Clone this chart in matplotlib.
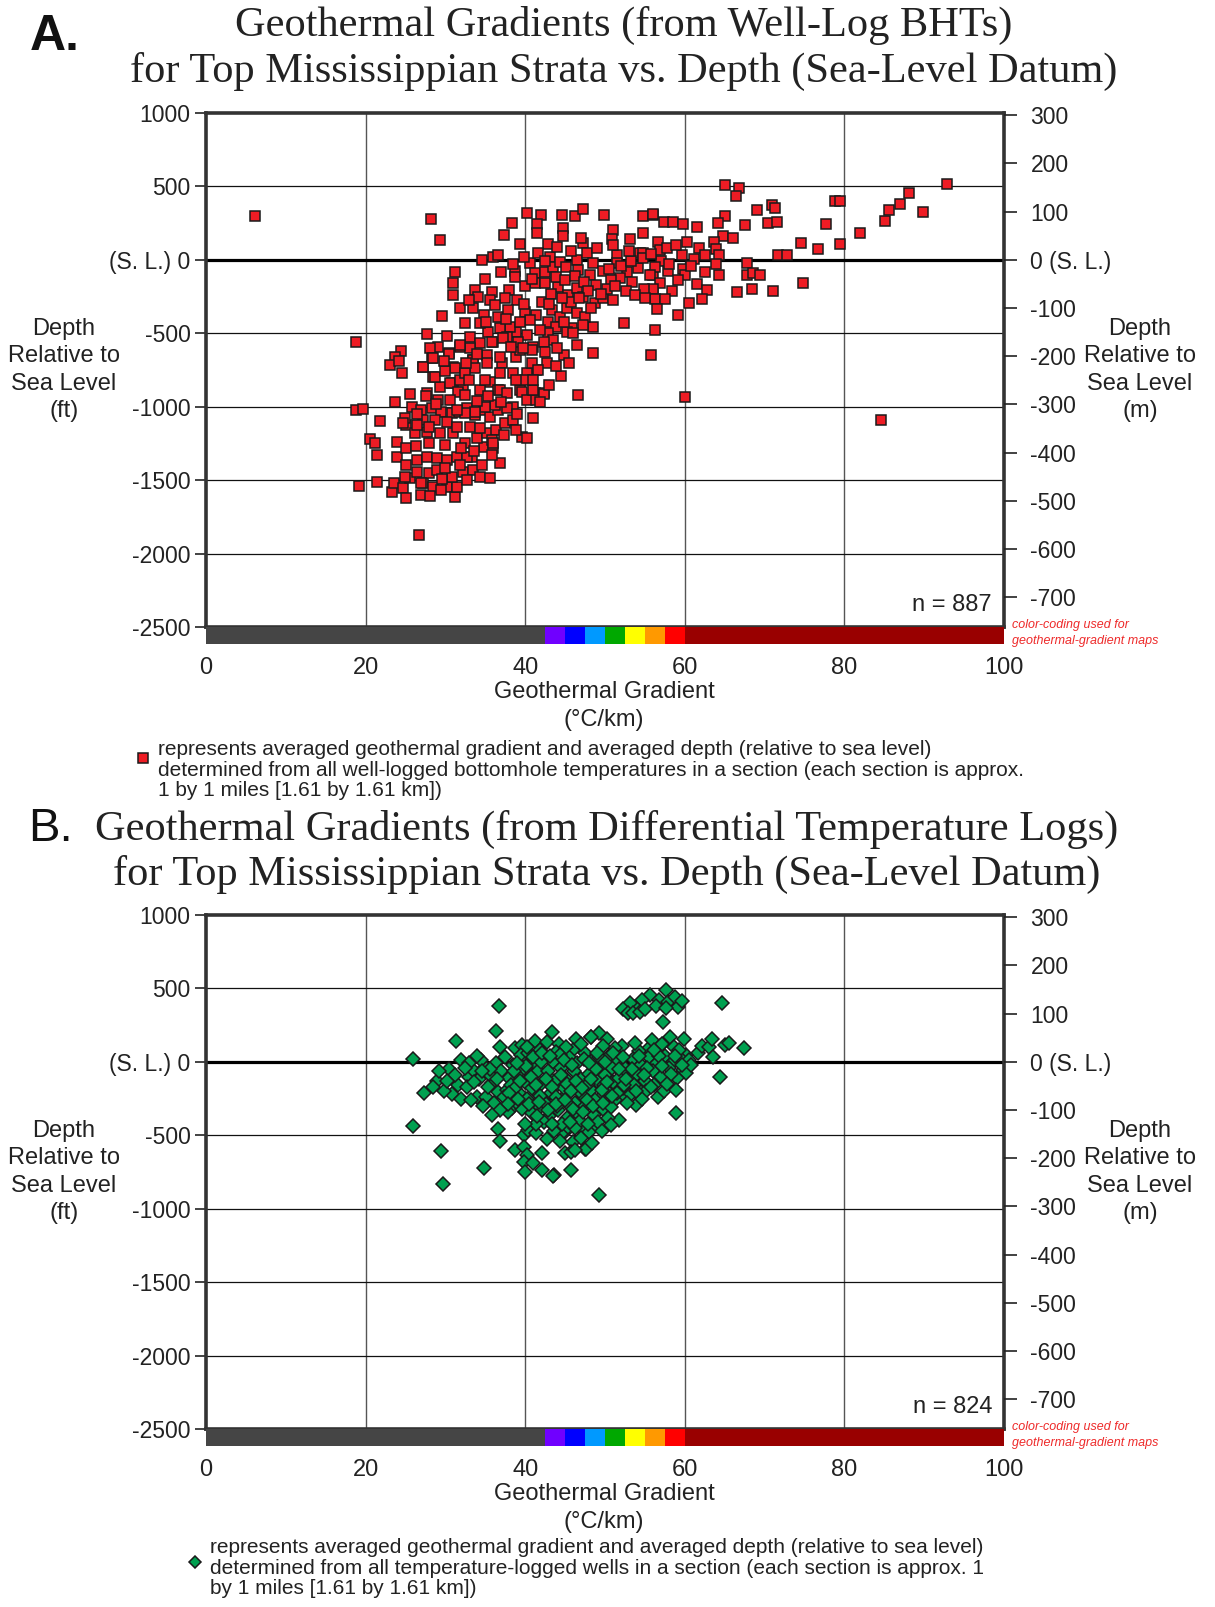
import matplotlib
matplotlib.use("Agg")
import matplotlib.pyplot as plt

plt.rcParams['font.family'] = ['Liberation Sans', 'DejaVu Sans']

# ---- data: (geothermal gradient degC/km, depth rel. to sea level ft) ----
bht_points = [
    (6.2, 296), (18.8, -557), (18.8, -1022), (19.7, -1017), (19.2, -1540), (20.6, -1220), (21.2, -1249),
    (21.4, -1329), (21.4, -1510), (21.8, -1095), (26.7, -1873), (28.2, 278), (29.3, 135), (31.2, -83),
    (27.7, -505), (60.0, -931), (84.6, -1092), (92.9, 517),
    (38.3, 251), (37.3, 169), (39.3, 108), (40.2, 319), (42.0, 306), (41.5, 244), (41.5, 183), (44.6, 306),
    (46.2, 299), (47.2, 346), (44.7, 217), (44.7, 162), (42.9, 108), (49.9, 306), (47.2, 115), (51.0, 203),
    (50.9, 142), (53.1, 142), (54.8, 183), (54.8, 299), (56.0, 306),
    (34.6, -1), (36.0, 20), (36.6, 33), (38.7, -76), (38.5, -28), (40.6, -21), (41.6, 47), (43.1, 20),
    (41.2, -90), (42.5, -83), (43.5, -49), (44.4, -14), (45.1, -49), (46.5, -1), (47.7, 47), (48.5, -21),
    (46.6, -69), (48.1, -103), (49.7, -76), (51.5, 33), (51.5, -21), (52.8, -83), (54.4, 47), (54.1, -55),
    (56.0, -103), (56.0, -205), (53.4, -151), (51.9, -124), (50.8, -137),
    (41.2, -158), (42.5, -158), (44.1, -185), (45.4, -239), (46.5, -192), (47.2, -253), (48.7, -294),
    (49.7, -260), (51.0, -273), (52.4, -430), (48.5, -457), (40.0, -178), (42.1, -287),
    (43.4, -341), (44.4, -389), (45.2, -328), (46.5, -362), (47.5, -389), (45.9, -464), (47.2, -444),
    (48.5, -634), (55.8, -648), (56.3, -478), (44.5, -791), (46.6, -920),
    (30.9, -239), (31.8, -330), (33.7, -205), (34.1, -251), (35.9, -217), (38.0, -205), (39.0, -273),
    (35.6, -273), (33.5, -330), (34.8, -375), (36.6, -387), (37.9, -341), (40.0, -353), (41.4, -375),
    (40.6, -410), (42.9, -421), (43.9, -455), (42.9, -500), (45.2, -489), (46.0, -500), (46.5, -580),
    (44.8, -648), (43.5, -546), (42.3, -557), (41.0, -591), (40.2, -512), (38.9, -489), (38.1, -455),
    (36.8, -466), (35.4, -489), (34.3, -432), (33.1, -523), (31.8, -591), (30.4, -636), (29.1, -591),
    (28.3, -670), (28.1, -602), (27.2, -727), (28.5, -796), (31.0, -727), (33.5, -682), (35.2, -648),
    (37.1, -704), (38.9, -659), (40.8, -614), (42.5, -625), (42.7, -704), (41.4, -750), (40.2, -772),
    (38.5, -772), (36.8, -772), (35.6, -830), (36.6, -886), (34.3, -886), (32.2, -864), (30.8, -841),
    (29.3, -864), (27.7, -909), (39.3, -886), (41.2, -909), (42.3, -909),
    (24.4, -618), (23.7, -659), (23.1, -716), (24.2, -686), (24.6, -768), (27.2, -732), (28.5, -671),
    (30.4, -641), (31.2, -739), (28.7, -796), (30.6, -837), (31.8, -818), (31.6, -898), (30.6, -954),
    (29.1, -954), (27.6, -927), (25.6, -913), (23.7, -966), (25.8, -1000), (27.0, -1022), (28.3, -1011),
    (29.5, -1034), (30.8, -1045), (31.7, -1034), (32.7, -1011), (33.7, -1056), (34.8, -1022), (35.6, -1068),
    (36.6, -1022), (36.8, -886), (37.7, -909), (38.5, -1004), (39.6, -898), (40.2, -954), (41.4, -954),
    (42.3, -913), (41.0, -886), (40.0, -818), (40.8, -704), (41.6, -750), (39.3, -614), (36.8, -659),
    (35.2, -704), (33.5, -682), (33.7, -739), (32.5, -772), (34.3, -568), (33.1, -602), (31.8, -580),
    (36.0, -557), (37.7, -523), (39.1, -557),
    (23.3, -1579), (23.5, -1521), (24.7, -1556), (25.1, -1624), (27.0, -1601), (27.2, -1521), (25.6, -1488),
    (24.9, -1476), (26.4, -1442), (27.9, -1454), (28.9, -1431), (28.5, -1544), (30.2, -1544), (31.2, -1612),
    (31.4, -1544), (30.8, -1476), (32.2, -1442), (33.5, -1431), (34.3, -1476), (35.6, -1488), (33.3, -1340),
    (34.8, -1272), (36.0, -1283), (36.8, -1385), (35.8, -1329), (23.9, -1340), (23.9, -1238), (25.1, -1283),
    (26.4, -1363), (27.7, -1340), (28.9, -1351), (30.2, -1363), (31.4, -1340), (32.7, -1340), (25.1, -1124),
    (26.2, -1181), (27.7, -1170), (29.3, -1181), (31.0, -1181), (32.5, -1249), (33.9, -1215), (35.2, -1181),
    (36.4, -1158), (37.5, -1113), (38.5, -1090), (39.6, -1204), (40.2, -1215), (41.0, -1079), (37.7, -1011),
    (36.2, -988), (35.0, -1000), (33.7, -1034), (32.5, -1045), (31.4, -1022), (30.2, -1102), (28.7, -1090),
    (27.2, -1090), (24.9, -1079), (24.7, -1113), (26.4, -1124), (27.9, -1136), (31.4, -1136), (33.1, -1136),
    (34.3, -1147), (35.8, -1227), (36.0, -1249),
    (65.0, 510), (66.8, 487), (66.4, 435), (69.0, 340), (70.9, 373), (71.3, 353), (65.0, 299), (64.2, 251),
    (67.5, 237), (70.4, 251), (71.5, 258), (64.8, 163), (66.0, 149), (63.7, 122), (63.9, 74), (64.3, 33),
    (63.9, -28), (67.8, -21), (64.3, -103), (67.8, -103), (68.5, -90), (69.4, -103), (62.5, -83),
    (61.5, -164), (62.8, -205), (62.2, -267), (60.5, -294), (59.1, -375), (66.5, -219), (68.4, -198),
    (71.1, -212), (74.8, -158), (71.7, 33), (72.8, 33), (74.6, 115), (76.7, 74), (77.7, 244), (79.4, 108),
    (78.8, 401), (79.4, 401), (82.0, 183), (85.1, 265), (85.6, 340), (87.0, 381), (88.1, 455), (89.8, 326),
    (56.0, 312), (57.4, 258), (58.5, 258), (59.8, 244), (61.5, 224), (56.6, 122), (56.9, 67), (54.8, 47),
    (59.6, 33), (61.2, 6), (57.0, -8), (56.3, -49), (57.9, -76), (59.8, -62), (60.0, -103), (55.6, -103),
    (56.9, -158), (56.0, -198), (58.4, -212), (54.9, -198), (56.3, -267), (57.5, -267), (56.5, -335),
    (43.8, -120), (45.0, -140), (46.2, -110), (47.4, -150), (48.9, -170), (50.2, -200), (51.3, -180),
    (52.6, -210), (53.8, -240), (55.0, -260), (49.5, -230), (47.9, -210), (45.8, -290), (44.6, -260),
    (43.2, -230), (50.5, -60), (52.0, -40), (53.3, -10), (54.7, 10), (55.8, 40), (57.8, 80), (58.9, 100),
    (60.3, 120), (61.8, 80), (62.5, 30), (58.0, -30), (59.2, -140), (60.8, -40), (53.0, 60), (51.0, 100),
    (49.0, 80), (47.0, 150), (45.8, 60), (44.0, 90), (42.5, -10), (39.8, 20), (40.9, -130), (38.7, -120),
    (37.5, -260), (36.2, -310), (39.3, -420), (37.2, -530), (35.8, -560), (34.0, -640), (32.6, -700),
    (30.0, -760), (29.8, -690), (32.4, -920), (33.9, -960), (35.3, -930), (37.0, -970), (38.8, -820),
    (34.9, -820), (33.0, -820), (28.8, -980), (26.5, -1050), (29.9, -1260), (31.9, -1280), (33.6, -1300),
    (28.0, -1250), (26.3, -1270), (25.0, -1400), (26.9, -1520), (29.6, -1490), (32.7, -1500), (28.1, -1610),
    (29.4, -1570), (30.0, -1420), (31.8, -1400), (34.6, -1400), (37.4, -1190), (38.9, -1160), (39.0, -1050),
    (41.9, -970), (43.0, -850), (41.0, -820), (43.9, -720), (45.5, -700), (44.0, -600), (41.9, -480),
    (39.7, -600), (38.2, -590), (37.6, -400), (35.1, -420), (32.5, -430), (30.2, -520), (29.6, -380),
    (32.9, -270), (31.0, -160), (35.0, -130), (37.0, -80), (39.8, -300), (43.0, -300), (44.8, -420),
    (46.8, -260), (48.2, -330),
]

dtl_points = [
    (36.7, 380), (36.3, 212), (31.3, 140), (26.0, 19), (32.0, 13), (27.3, -210), (26.0, -435), (29.5, -607),
    (29.7, -832), (34.8, -725), (38.3, -316), (36.6, -459), (36.8, -536), (39.8, -498), (40.4, -464),
    (41.4, -487), (42.7, -528), (38.7, -600), (39.8, -577), (40.2, -634), (39.8, -679), (41.0, -690),
    (42.1, -618), (42.1, -736), (43.6, -770), (40.0, -747), (43.7, -443), (45.0, -477), (46.0, -545),
    (45.0, -624), (45.8, -613), (45.8, -736), (47.5, -595), (44.6, -487), (45.4, -443), (49.3, -904),
    (51.7, -396), (48.5, -443), (47.1, -464), (47.6, -596), (43.5, -777),
    (32.9, -101), (33.9, -237), (35.1, -237), (35.8, -146), (35.0, -33), (36.6, -203), (37.7, -192),
    (33.5, -55), (31.6, -158), (34.5, 13), (36.4, -10), (32.7, -170),
    (43.3, 205), (41.2, 144), (42.7, 137), (44.2, 122), (46.4, 154), (48.3, 168), (38.7, 92), (36.8, 103),
    (39.6, 113), (46.0, 81),
    (57.7, 489), (55.6, 455), (56.8, 421), (56.4, 380), (57.9, 410), (58.8, 444), (59.2, 376), (59.7, 417),
    (57.7, 365), (54.6, 421), (53.8, 372), (53.1, 403), (52.3, 358), (52.9, 330), (53.5, 330), (54.4, 342),
    (55.0, 358), (64.7, 403), (57.3, 271),
    (58.1, 171), (59.9, 154), (58.6, 103), (56.9, 108), (55.4, 85), (54.2, 74), (52.1, 108), (51.3, 92),
    (50.2, 154), (49.2, 199), (48.3, 171),
    (61.6, 62), (62.1, 108), (63.0, 103), (63.4, 154), (63.5, 31), (65.0, 115), (65.5, 131), (67.4, 92),
    (64.4, -101), (60.2, 49), (59.8, -55), (60.2, -78),
    (57.9, -158), (53.9, -294), (58.9, -350), (56.1, -158), (54.0, -180), (52.1, -237),
    (37.5, 30), (38.5, -20), (39.5, 50), (40.5, 10), (41.5, -30), (42.5, 40), (43.5, 0), (44.5, -40),
    (45.5, 30), (46.5, -10), (47.5, 60), (48.5, 10), (49.5, -30), (50.5, 40), (51.5, 0), (52.5, -40),
    (53.5, 20), (54.5, -20), (55.5, 30), (56.5, -10), (57.5, 40), (58.5, 0), (59.5, 20),
    (37.0, -60), (38.0, -110), (39.0, -80), (40.0, -140), (41.0, -90), (42.0, -150), (43.0, -100),
    (44.0, -160), (45.0, -110), (46.0, -170), (47.0, -120), (48.0, -80), (49.0, -130), (50.0, -90),
    (51.0, -140), (52.0, -70), (53.0, -120), (54.0, -80), (55.0, -130), (56.0, -60), (57.0, -100),
    (58.0, -40), (59.0, -110),
    (38.2, -160), (39.2, -210), (40.2, -250), (41.2, -200), (42.2, -260), (43.2, -210), (44.2, -270),
    (45.2, -220), (46.2, -280), (47.2, -230), (48.2, -190), (49.2, -250), (50.2, -200), (51.2, -260),
    (52.2, -180), (53.2, -220), (55.2, -200), (56.6, -240), (57.4, -200),
    (39.6, -320), (40.8, -350), (41.9, -310), (43.0, -370), (44.1, -330), (45.3, -380), (46.4, -340),
    (47.5, -300), (48.6, -360), (49.7, -320), (50.8, -310), (42.4, -410), (44.6, -420), (46.9, -400),
    (49.1, -410), (50.4, -380),
    (40.3, 60), (41.8, 80), (43.9, 70), (45.1, 100), (47.0, 120), (49.8, 110), (53.8, 130), (55.9, 150),
    (57.2, 120), (59.3, 80), (60.5, 10), (58.3, -80), (56.8, 40), (60.8, -20),
    (34.2, -120), (35.5, -80), (36.1, -280), (37.3, -240), (38.9, -270), (37.9, -340), (35.6, -50),
    (34.0, 40), (33.0, -10), (30.5, -50), (29.0, -130), (28.5, -170), (30.8, -220), (31.9, -250),
    (29.8, -200),
    (40.9, -180), (41.6, -60), (42.9, -60), (43.7, -130), (44.9, -180), (46.1, -60), (46.8, -200),
    (47.9, -150), (48.8, -260), (49.9, -160), (51.5, -210), (52.8, -280), (54.6, -250), (53.6, -160),
    (50.9, -40), (49.3, 30), (44.3, 50), (42.0, 0), (39.8, -40), (38.7, -180),
    (44.0, -300), (45.8, -310), (42.6, -290), (41.3, -420), (43.6, -470), (46.3, -450), (48.0, -480),
    (47.0, -520), (44.3, -540), (46.2, -600), (48.4, -550), (49.6, -470), (50.7, -430),
    # dense core between 38 and 52 degC/km
    (38.6, -60), (39.4, -130), (40.1, -30), (40.7, -100), (41.3, -160), (41.9, -230), (42.6, -120),
    (43.3, -170), (43.9, -240), (44.5, -90), (45.2, -150), (45.8, -200), (46.4, -130), (47.1, -180),
    (47.7, -260), (48.3, -120), (48.9, -50), (49.6, -190), (50.3, -140), (50.9, -230), (51.7, -110),
    (52.4, -160), (39.1, -250), (40.5, -290), (41.7, -270), (42.8, -330), (43.8, -290), (45.0, -260),
    (46.0, -320), (47.3, -340), (48.5, -300), (49.8, -280), (38.0, -210), (39.0, -10), (40.2, 100),
    (41.0, 30), (42.1, 60), (43.1, 40), (44.8, 10), (45.9, -20), (47.4, 20), (48.0, -10), (49.0, 60),
    (50.0, 0), (51.0, 60), (52.3, 30), (53.4, -50), (54.3, 40), (55.3, -40), (56.2, 80), (57.1, -30),
    (58.8, 40), (59.6, -20), (54.9, -90), (53.9, -200), (52.6, -120), (51.8, -50), (36.5, -120),
    (35.3, -170), (34.6, -60), (33.6, -140), (32.4, -40), (31.2, -90), (30.2, -130), (29.2, -60),
    (37.8, -290), (36.9, -330), (35.9, -360), (34.7, -300), (33.2, -260), (57.8, -150), (58.9, -190),
    (55.8, -170), (41.5, -370), (43.4, -420), (45.6, -410), (47.9, -420), (40.0, -420),
]

depth_ticks_ft = [1000, 500, 0, -500, -1000, -1500, -2000, -2500]
depth_labels_ft = ['1000', '500', '(S. L.) 0', '-500', '-1000', '-1500', '-2000', '-2500']
depth_ticks_m = [300, 200, 100, 0, -100, -200, -300, -400, -500, -600, -700]
depth_labels_m = ['300', '200', '100', '0 (S. L.)', '-100', '-200', '-300', '-400', '-500', '-600', '-700']
grad_ticks = [0, 20, 40, 60, 80, 100]
band_edges = [0, 42.5, 45, 47.5, 50, 52.5, 55, 57.5, 60, 100]
band_colors = ['#454545', '#7000ff', '#0000ff', '#0099ff', '#00a800', '#ffff00', '#ff9900', '#ff0000', '#990000']
FT_TO_M = 0.3048

W, H = 1215, 1607
fig = plt.figure(figsize=(W / 100, H / 100), dpi=100)

AX_L = 206 / W
AX_W = (1004 - 206) / W
AX_H = 514 / H
CB_H = 17 / H


def draw_panel(top_px, points, marker, face, ms, n_text):
    bottom = 1 - (top_px + 514) / H
    ax = fig.add_axes([AX_L, bottom, AX_W, AX_H])
    ax.set_xlim(0, 100)
    ax.set_ylim(-2500, 1000)

    for g in [20, 40, 60, 80]:
        ax.axvline(g, color='#555555', lw=1.0, zorder=1)
    for d in [500, -500, -1000, -1500, -2000]:
        ax.axhline(d, color='#111111', lw=0.9, zorder=1)
    ax.axhline(0, color='black', lw=2.3, zorder=2)

    xs = [p[0] for p in points]
    ys = [p[1] for p in points]
    ax.plot(xs, ys, ls='none', marker=marker, ms=ms, mfc=face, mec='#1a1a1a', mew=1.1, zorder=3)

    ax.set_xticks([])
    ax.set_yticks(depth_ticks_ft)
    ax.set_yticklabels(depth_labels_ft)
    ax.tick_params(axis='y', direction='out', length=8, width=1.2, labelsize=16.5, pad=3, colors='#222222')
    for s in ax.spines.values():
        s.set_linewidth(2.6)
        s.set_color('#333333')

    axr = ax.twinx()
    axr.set_ylim(-2500 * FT_TO_M, 1000 * FT_TO_M)
    axr.set_yticks(depth_ticks_m)
    axr.set_yticklabels(depth_labels_m)
    axr.tick_params(axis='y', direction='out', length=9, width=1.2, labelsize=16.5, pad=10, colors='#222222')
    for s in axr.spines.values():
        s.set_visible(False)

    ax.text(0.985, 0.042, n_text, transform=ax.transAxes, ha='right', va='center', fontsize=17, color='#222222')

    # colour-coding strip beneath the plot
    cax = fig.add_axes([AX_L, bottom - CB_H, AX_W, CB_H])
    for lo, hi, c in zip(band_edges[:-1], band_edges[1:], band_colors):
        cax.axvspan(lo, hi, color=c, lw=0)
    cax.set_xlim(0, 100)
    cax.set_ylim(0, 1)
    cax.set_yticks([])
    cax.set_xticks(grad_ticks)
    cax.tick_params(axis='x', length=0, pad=9, labelsize=17, colors='#222222')
    for s in cax.spines.values():
        s.set_visible(False)

    fig.text(1012 / W, 1 - (top_px + 520) / H, 'color-coding used for\ngeothermal-gradient maps',
             fontsize=9, style='italic', color='#ee2a2a', ha='left', va='center', linespacing=1.4)

    mid = 1 - (top_px + 257) / H
    side = 'Depth\nRelative to\nSea Level\n'
    fig.text(64 / W, mid, side + '(ft)', ha='center', va='center', fontsize=17, linespacing=1.3,
             color='#222222')
    fig.text(1140 / W, mid, side + '(m)', ha='center', va='center', fontsize=17, linespacing=1.3,
             color='#222222')
    fig.text(604 / W, 1 - (top_px + 593) / H, 'Geothermal Gradient\n(\u00b0C/km)', ha='center', va='center',
             fontsize=17, linespacing=1.3, color='#222222')
    return ax


draw_panel(113, bht_points, 's', '#ee1c24', 7.2, 'n = 887')
draw_panel(915, dtl_points, 'D', '#00a050', 6.8, 'n = 824')

serif = ['Liberation Serif', 'DejaVu Serif']
fig.text(0.513, 1 - 25 / H, 'Geothermal Gradients (from Well-Log BHTs)', family=serif, fontsize=30.5,
         ha='center', va='center', color='#222222')
fig.text(0.513, 1 - 71 / H, 'for Top Mississippian Strata vs. Depth (Sea-Level Datum)', family=serif,
         fontsize=30.5, ha='center', va='center', color='#222222')
fig.text(0.499, 1 - 829 / H, 'Geothermal Gradients (from Differential Temperature Logs)', family=serif,
         fontsize=30.5, ha='center', va='center', color='#222222')
fig.text(0.499, 1 - 874 / H, 'for Top Mississippian Strata vs. Depth (Sea-Level Datum)', family=serif,
         fontsize=30.5, ha='center', va='center', color='#222222')

fig.text(30 / W, 1 - 37 / H, 'A.', fontsize=36, fontweight='bold', ha='left', va='center', color='#111111')
fig.text(28 / W, 1 - 829 / H, 'B.', fontsize=34, ha='left', va='center', color='#111111')

# legends
legend_a = ('represents averaged geothermal gradient and averaged depth (relative to sea level)\n'
            'determined from all well-logged bottomhole temperatures in a section (each section is approx.\n'
            '1 by 1 miles [1.61 by 1.61 km])')
legend_b = ('represents averaged geothermal gradient and averaged depth (relative to sea level)\n'
            'determined from all temperature-logged wells in a section (each section is approx. 1\n'
            'by 1 miles [1.61 by 1.61 km])')
fig.text(158 / W, 1 - 770 / H, legend_a, fontsize=15, ha='left', va='center', linespacing=1.12,
         color='#222222')
fig.text(210 / W, 1 - 1568 / H, legend_b, fontsize=15, ha='left', va='center', linespacing=1.12,
         color='#222222')
leg_ax = fig.add_axes([0, 0, 1, 1], facecolor='none')
leg_ax.set_xlim(0, W)
leg_ax.set_ylim(H, 0)
leg_ax.axis('off')
leg_ax.plot([143], [758], ls='none', marker='s', ms=7, mfc='#ee1c24', mec='#1a1a1a', mew=1.1)
leg_ax.plot([195], [1562], ls='none', marker='D', ms=6, mfc='#00a050', mec='#1a1a1a', mew=1.1)

fig.savefig('out.png', dpi=100)
